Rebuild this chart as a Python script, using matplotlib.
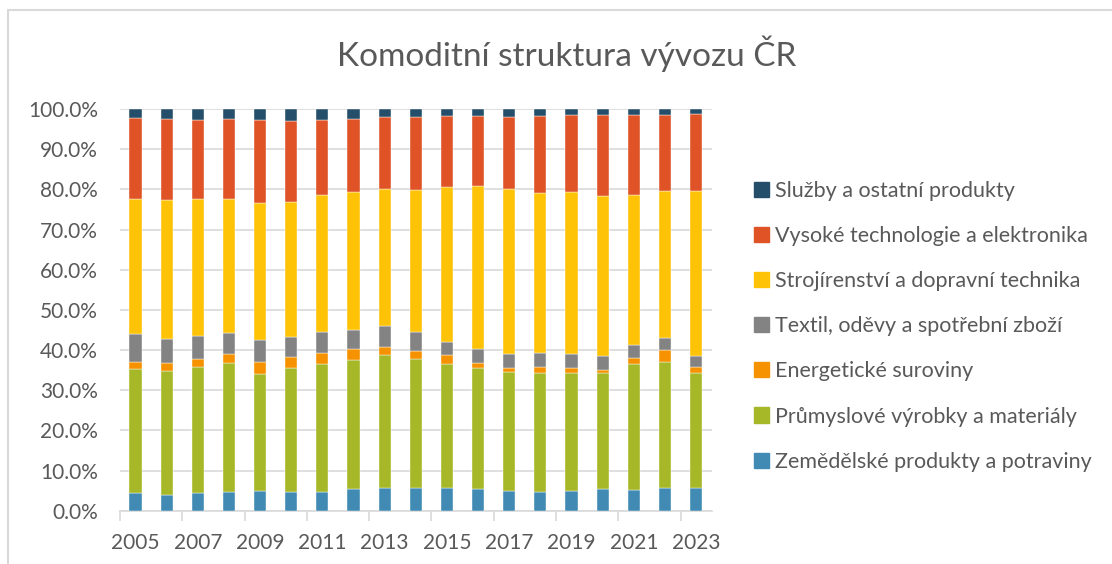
import matplotlib.pyplot as plt
import matplotlib.patches as mpatches
import numpy as np

plt.rcParams['font.family'] = ['Lato', 'DejaVu Sans']

years = list(range(2005, 2024))

# shares of exports (%)
zemedelske = [4.3, 3.8, 4.3, 4.7, 5.0, 4.6, 4.7, 5.5, 5.7, 5.7, 5.6, 5.4, 5.0, 4.7, 4.9, 5.3, 5.2, 5.6, 5.7]
prumyslove = [30.9, 31.0, 31.4, 32.0, 29.0, 30.9, 31.8, 31.9, 33.0, 32.1, 30.8, 30.0, 29.5, 29.7, 29.5, 29.0, 31.2, 31.3, 28.7]
energeticke = [1.8, 1.9, 2.0, 2.2, 2.9, 2.7, 2.8, 2.9, 2.1, 1.9, 2.4, 1.4, 1.0, 1.3, 1.0, 0.7, 1.6, 3.2, 1.4]
textil = [7.1, 6.1, 5.8, 5.4, 5.6, 5.1, 5.3, 4.8, 5.3, 4.9, 3.3, 3.5, 3.5, 3.5, 3.5, 3.4, 3.2, 3.0, 2.8]
strojirenstvi = [33.6, 34.6, 34.0, 33.4, 34.1, 33.5, 34.0, 34.2, 33.9, 35.2, 38.5, 40.5, 41.0, 39.9, 40.5, 40.0, 37.5, 36.5, 41.0]
vysoke = [20.1, 20.1, 19.8, 19.8, 20.7, 20.2, 18.7, 18.2, 17.9, 18.1, 17.7, 17.5, 18.1, 19.2, 19.0, 20.2, 19.7, 18.8, 19.1]
sluzby = [2.2, 2.5, 2.7, 2.5, 2.7, 3.0, 2.7, 2.5, 2.1, 2.1, 1.7, 1.7, 1.9, 1.7, 1.6, 1.4, 1.6, 1.6, 1.3]

labels = ['Zemědělské produkty a potraviny', 'Průmyslové výrobky a materiály',
          'Energetické suroviny', 'Textil, oděvy a spotřební zboží',
          'Strojírenství a dopravní technika', 'Vysoké technologie a elektronika',
          'Služby a ostatní produkty']
series = [zemedelske, prumyslove, energeticke, textil, strojirenstvi, vysoke, sluzby]
colors = ['#418AB3', '#A6B727', '#F69200', '#838383', '#FEC306', '#DF5327', '#254E6A']

txt = '#595959'
fig = plt.figure(figsize=(11.12, 5.64), dpi=100)
ax = fig.add_axes([120 / 1112, 53.3 / 564, 591.7 / 1112, 401.7 / 564])

x = np.arange(len(years))
bottom = np.zeros(len(years))
handles = []
for vals, lab, col in zip(series, labels, colors):
    vals = np.array(vals)
    ax.bar(x, vals, 0.39, bottom=bottom, color=col, edgecolor='white', linewidth=0.3, zorder=3)
    bottom += vals
    handles.append(mpatches.Patch(color=col, label=lab))

ax.set_xlim(-0.5, len(years) - 0.5)
ax.set_ylim(0, 100)
ax.set_yticks(np.arange(0, 101, 10))
ax.set_yticklabels([f'{v:.1f}%' for v in np.arange(0, 101, 10)])
ax.yaxis.grid(True, color='#D9D9D9', linewidth=1.2, zorder=0)
ax.set_xticks(x[::2])
ax.set_xticklabels([str(y) for y in years[::2]])
ax.set_xticks(np.arange(-0.5, len(years) - 1, 2), minor=True)
ax.tick_params(axis='x', which='major', length=0, pad=16, labelsize=15, labelcolor=txt)
ax.tick_params(axis='x', which='minor', length=7, width=1.2, color='#D9D9D9')
ax.tick_params(axis='y', length=0, pad=16, labelsize=15, labelcolor=txt)
for s in ['left', 'right', 'top']:
    ax.spines[s].set_visible(False)
ax.spines['bottom'].set_color('#D9D9D9')
ax.spines['bottom'].set_linewidth(1.2)

fig.text(567 / 1112, 1 - 54 / 564, 'Komoditní struktura vývozu ČR', ha='center', va='center',
         fontsize=24, color=txt)

leg = fig.legend(handles=handles[::-1], loc='upper left', bbox_to_anchor=(745 / 1112, 1 - 172 / 564),
                 frameon=False, fontsize=15.5, labelcolor=txt, handlelength=0.7, handleheight=0.7,
                 handletextpad=0.3, labelspacing=1.17, borderaxespad=0)

# outer chart border
fig.patches.append(mpatches.Rectangle((8 / 1112, -0.1), 1.2, 1.1 - 10 / 564, transform=fig.transFigure,
                                      fill=False, edgecolor='#D9D9D9', linewidth=1.5))

fig.savefig('out.png', dpi=100)
